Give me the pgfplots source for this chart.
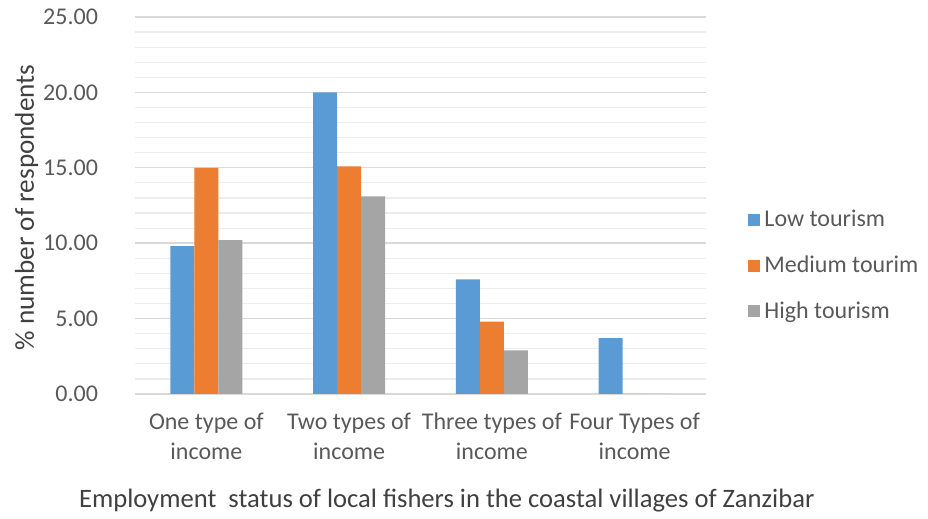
\documentclass[border=0pt]{standalone}
\usepackage{fontspec}
\setmainfont{Carlito}
\usepackage{pgfplots}
\pgfplotsset{compat=1.18}
\definecolor{cLow}{HTML}{5B9BD5}
\definecolor{cMed}{HTML}{ED7D31}
\definecolor{cHigh}{HTML}{A5A5A5}
\definecolor{txt}{HTML}{595959}
\definecolor{ttl}{HTML}{404040}
\definecolor{gmaj}{HTML}{D9D9D9}
\definecolor{gmin}{HTML}{EDEDED}
\begin{document}
\begin{tikzpicture}
\useasboundingbox (-67.5pt,-62.5pt) rectangle (396.5pt,197pt);
\begin{axis}[
  at={(0,0)}, anchor=south west,
  width=285.5pt, height=188.5pt, scale only axis,
  ybar=0pt, bar width=12pt,
  xmin=-0.5, xmax=3.5, ymin=0, ymax=25,
  xtick={0,1,2,3},
  xticklabels={One type of\\income, Two types of\\income, Three types of\\income, Four Types of\\income},
  xticklabel style={align=center, font=\fontsize{12}{15}\selectfont, text=txt, yshift=-6pt},
  ytick={0,5,10,15,20,25},
  minor y tick num=4,
  yticklabel style={font=\fontsize{12}{14}\selectfont, text=txt, xshift=-15pt},
  /pgf/number format/.cd, fixed, fixed zerofill, precision=2, assume math mode=true,
  /pgfplots/.cd,
  ymajorgrids, yminorgrids,
  major grid style={draw=gmaj, line width=0.7pt},
  minor grid style={draw=gmin, line width=0.6pt},
  major tick length=0pt, minor tick length=0pt,
  axis x line*=bottom, axis y line*=left,
  y axis line style={draw=none},
  x axis line style={draw=gmaj, line width=0.7pt, -},
  xlabel={Employment\ \ status of local fishers in the coastal villages of Zanzibar},
  xlabel style={at={(axis description cs:0.546,-0.283)}, anchor=center, font=\fontsize{13.3}{15}\selectfont, text=ttl},
  ylabel={\% number of respondents},
  ylabel style={at={(axis description cs:-0.19,0.495)}, anchor=center, font=\fontsize{13.6}{15}\selectfont, text=ttl},
  legend style={at={(axis description cs:1.0736,0.34)}, anchor=west, draw=none, fill=none, inner sep=0pt,
    font=\fontsize{12}{14}\selectfont, text=txt, row sep=9pt},
  legend cell align=left,
  legend image code/.code={\draw[#1,draw=none] (0pt,-3pt) rectangle (6pt,3pt);},
]
\addplot[fill=cLow, draw=none] coordinates {(0,9.8) (1,20.0) (2,7.6) (3,3.7)};
\addplot[fill=cMed, draw=none] coordinates {(0,15.0) (1,15.1) (2,4.8) (3,0)};
\addplot[fill=cHigh, draw=none] coordinates {(0,10.2) (1,13.1) (2,2.9) (3,0)};
\legend{Low tourism, Medium tourim, High tourism}
\end{axis}
\end{tikzpicture}
\end{document}
